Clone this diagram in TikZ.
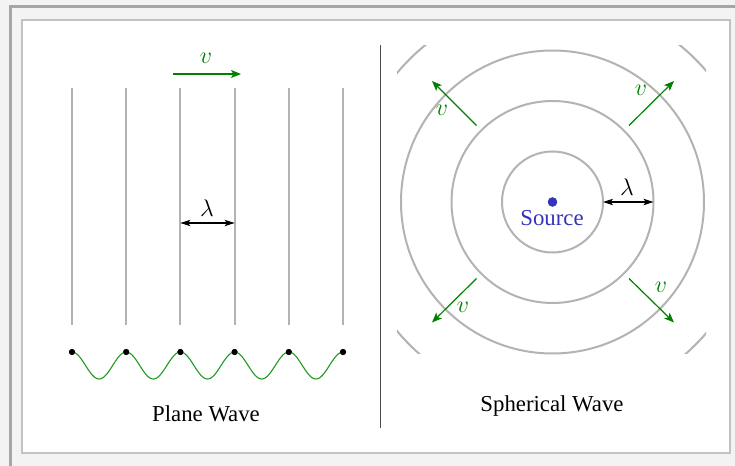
\documentclass[tikz,border=0pt]{standalone}
\usepackage{fontspec}
\setmainfont{Liberation Serif}
\usetikzlibrary{arrows.meta}
\definecolor{bgc}{HTML}{F3F3F3}
\definecolor{framedark}{HTML}{A6A6A6}
\definecolor{frameinner}{HTML}{C2C2C2}
\definecolor{wavegrey}{HTML}{B3B3B3}
\definecolor{vgreen}{HTML}{008000}
\definecolor{wgreen}{HTML}{229922}
\definecolor{srcblue}{HTML}{3333BB}
\tikzset{
  front/.style={draw=wavegrey, line width=1pt},
  varrow/.style={draw=vgreen, line width=0.6pt, -{Stealth[length=5pt,width=4pt,inset=1.2pt]}},
  lamarrow/.style={draw=black, line width=0.6pt, {Stealth[length=5pt,width=3.2pt,inset=1.2pt]}-{Stealth[length=5pt,width=3.2pt,inset=1.2pt]}},
  vlabel/.style={text=vgreen, font=\fontsize{12}{13}\selectfont, inner sep=0pt},
  lablabel/.style={text=black, font=\fontsize{12}{13}\selectfont, inner sep=0pt},
  title/.style={text=black, font=\fontsize{11.4}{14}\selectfont, inner sep=0pt},
  pdot/.style={circle, fill=black, inner sep=0pt, minimum size=3pt},
}
\begin{document}
\begin{tikzpicture}[x=0.5pt, y=-0.5pt]
\useasboundingbox (0,0) rectangle (735,466);
% frame
\fill[bgc] (0,0) rectangle (735,466);
\fill[framedark] (9,5) rectangle (735,7.5);
\fill[framedark] (9,5) rectangle (12,466);
\filldraw[fill=white, draw=frameinner, line width=1pt] (21.5,20) rectangle (730,452.5);
% divider
\coordinate (dtop) at (380.5,45);
\coordinate (dbot) at (380.5,428);
\draw[draw=black!70, line width=0.6pt] (dtop) -- (dbot);

% ---------- plane wave ----------
\foreach \i/\x in {1/72,2/126.2,3/180.4,4/234.6,5/288.8,6/343} {
  \coordinate (t\i) at (\x,88);
  \coordinate (b\i) at (\x,325);
  \draw[front] (t\i) -- (b\i);
  \node[pdot] (d\i) at (\x,352) {};
}
\draw[draw=wgreen, line width=0.55pt] plot[variable=\t, domain=0:5, samples=240, smooth]
  ({72+54.2*\t}, {365.5-13.5*cos(360*\t)});
\foreach \i in {1,...,6} { \node[pdot] at (d\i) {}; }
% velocity arrow
\coordinate (pa) at (173,74);
\coordinate (pb) at (241,74);
\draw[varrow] (pa) -- (pb);
\node[vlabel] (pv) at (206,58) {$v$};
% lambda
\coordinate (la) at (180.4,223);
\coordinate (lb) at (234.6,223);
\draw[lamarrow] (la) -- (lb);
\node[lablabel] (pl) at (207,208) {$\lambda$};
\node[title] (plane) at (206,414) {Plane Wave};

% ---------- spherical wave ----------
\coordinate (c) at (552.5,202);
\draw[front] (c) circle[radius=50.5];
\draw[front] (c) circle[radius=101];
\draw[front] (c) circle[radius=151.5];
\begin{scope}
  \clip (397,45) rectangle (706,353);
  \draw[front] (c) circle[radius=202];
\end{scope}
\node[circle, fill=srcblue, inner sep=0pt, minimum size=4.8pt] (src) at (c) {};
\node[text=srcblue, font=\fontsize{11.4}{14}\selectfont, inner sep=0pt] (srclab) at (552,218.5) {Source};
% lambda
\coordinate (sa) at (603,202);
\coordinate (sb) at (653.5,202);
\draw[lamarrow] (sa) -- (sb);
\node[lablabel] (sl) at (627,187) {$\lambda$};
% velocity arrows
\coordinate (a1s) at (476.5,125.5); \coordinate (a1e) at (432,81);
\coordinate (a2s) at (629,125.5);   \coordinate (a2e) at (674,81);
\coordinate (a3s) at (476.5,278.5); \coordinate (a3e) at (432,322.5);
\coordinate (a4s) at (629,278.5);   \coordinate (a4e) at (674,322.5);
\draw[varrow] (a1s) -- (a1e);
\draw[varrow] (a2s) -- (a2e);
\draw[varrow] (a3s) -- (a3e);
\draw[varrow] (a4s) -- (a4e);
\node[vlabel] (v1) at (442,110) {$v$};
\node[vlabel] (v2) at (641,90) {$v$};
\node[vlabel] (v3) at (463,307) {$v$};
\node[vlabel] (v4) at (661,287) {$v$};
\node[title] (sph) at (552,406) {Spherical Wave};
\end{tikzpicture}
\end{document}
